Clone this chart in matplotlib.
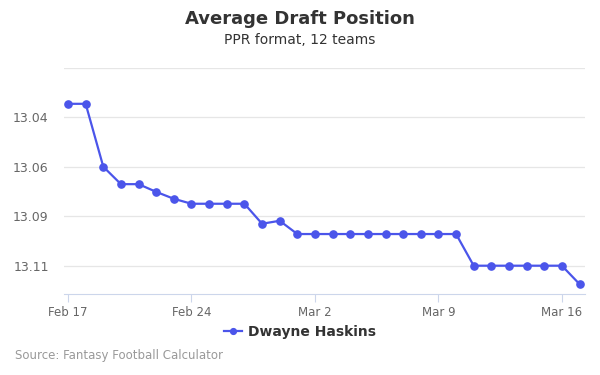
import datetime as dt
import matplotlib
matplotlib.use("Agg")
import matplotlib.pyplot as plt
import matplotlib.dates as mdates

# ADP for Dwayne Haskins, Feb 17 - Mar 17 (2020, leap year)
start = dt.date(2020, 2, 17)
adp = [13.0306, 13.0306, 13.0624, 13.0712, 13.0712, 13.0751, 13.0786, 13.0811,
       13.0811, 13.0811, 13.0811, 13.0912, 13.0897, 13.0964, 13.0964, 13.0964,
       13.0964, 13.0964, 13.0964, 13.0964, 13.0964, 13.0964, 13.0964, 13.1124,
       13.1124, 13.1124, 13.1124, 13.1124, 13.1124, 13.1217]
dates = [start + dt.timedelta(days=i) for i in range(len(adp))]

y_ticks = [13.0125, 13.0375, 13.0625, 13.0875, 13.1125]
y_labels = ["", "13.04", "13.06", "13.09", "13.11"]
x_ticks = [dt.date(2020, 2, 17), dt.date(2020, 2, 24), dt.date(2020, 3, 2),
           dt.date(2020, 3, 9), dt.date(2020, 3, 16)]

line_color = "#4b55ea"

fig = plt.figure(figsize=(6, 3.75), dpi=100)
ax = fig.add_axes([0.1067, 0.216, 0.8683, 0.6027])

ax.plot(dates, adp, color=line_color, linewidth=1.6, marker="o",
        markersize=5.2, label="Dwayne Haskins", zorder=3)

ax.set_ylim(13.1267, 13.0125)
ax.set_yticks(y_ticks)
ax.set_yticklabels(y_labels)
ax.set_xlim(mdates.date2num(start) - 0.227, mdates.date2num(start) + 29.31)
ax.set_xticks(x_ticks)
ax.xaxis.set_major_formatter(mdates.DateFormatter("%b %-d"))

ax.grid(axis="y", color="#e6e6e6", linewidth=0.9)
ax.set_axisbelow(True)
for s in ["top", "right", "left"]:
    ax.spines[s].set_visible(False)
ax.spines["bottom"].set_color("#ccd6eb")
ax.tick_params(axis="y", length=0, labelsize=9, labelcolor="#666666", pad=11)
ax.tick_params(axis="x", length=6, color="#ccd6eb", labelsize=8.5,
               labelcolor="#666666", pad=3)

fig.text(0.5, 0.948, "Average Draft Position", ha="center", va="center",
         fontsize=13, fontweight="bold", color="#333333")
fig.text(0.5, 0.893, "PPR format, 12 teams", ha="center", va="center",
         fontsize=10, color="#333333")

leg = fig.legend(loc="center", bbox_to_anchor=(0.5, 0.114), frameon=False,
                 prop={"weight": "bold", "size": 10}, handlelength=1.3,
                 handletextpad=0.5, markerscale=0.8)
for t in leg.get_texts():
    t.set_color("#333333")

fig.text(0.025, 0.051, "Source: Fantasy Football Calculator", ha="left",
         va="center", fontsize=8.5, color="#999999")

fig.savefig("out.png", dpi=100)
